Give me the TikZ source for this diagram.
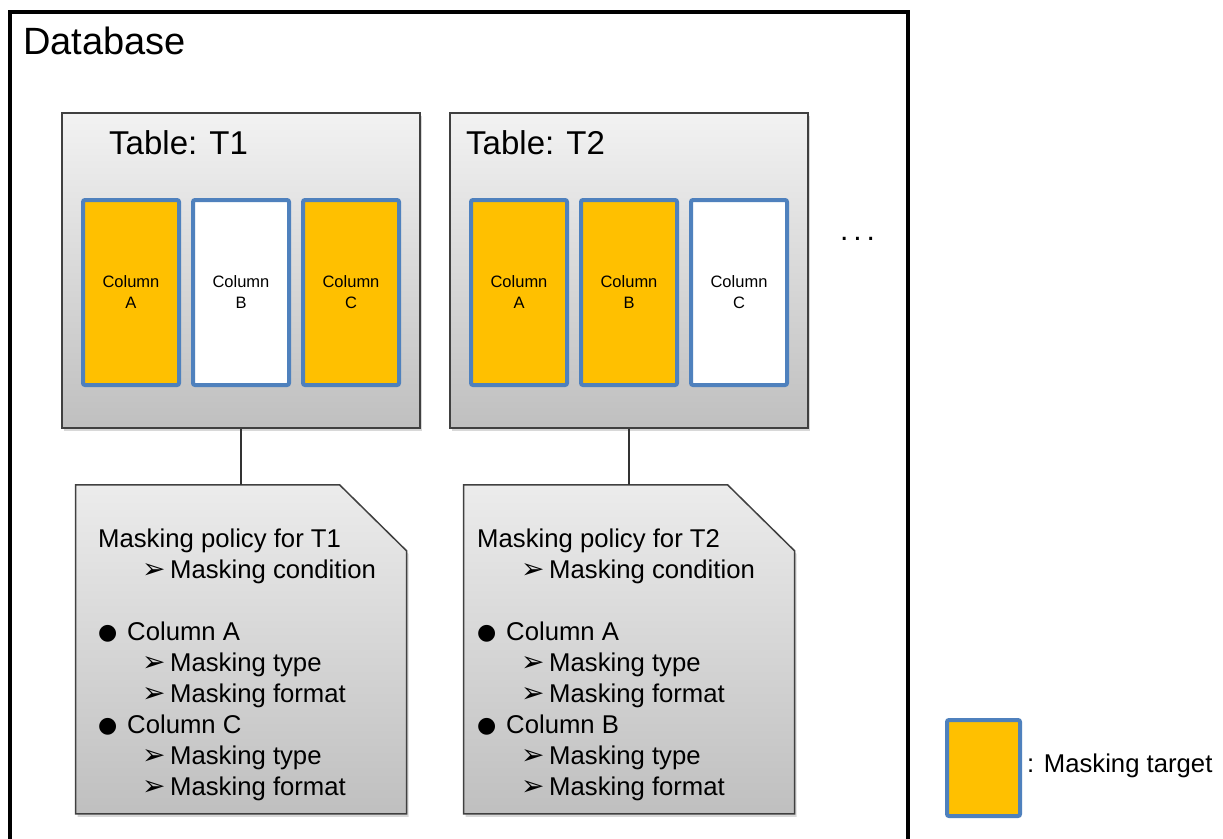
\documentclass[tikz,border=0pt]{standalone}
\usepackage{fontspec}
\setmainfont{Liberation Sans}
\newfontfamily\symfont{DejaVu Sans}
\usetikzlibrary{positioning,shadows}
\definecolor{maskorange}{HTML}{FFC000}
\definecolor{colblue}{HTML}{4F81BD}
\newcommand{\polarrow}[1]{\hspace*{44pt}\makebox[28pt][l]{\symfont\fontsize{28}{31}\selectfont ➢}#1}
\newcommand{\polbullet}[1]{\hspace*{0pt}\makebox[29pt][l]{\raisebox{1.5pt}{\symfont\fontsize{22}{31}\selectfont ●}}#1}
\tikzset{
  dbframe/.style={draw=black, line width=4pt, outer sep=0pt},
  tablebox/.style={draw=black!75, line width=1.5pt, top color=gray!10, bottom color=gray!50,
    minimum width=358pt, minimum height=315pt,
    drop shadow={shadow xshift=2pt, shadow yshift=-3pt, opacity=.3}},
  maskcol/.style={draw=colblue, line width=4pt, rounded corners=2pt, fill=maskorange,
    minimum width=96pt, minimum height=185pt, align=center, font=\fontsize{16.5}{21}\selectfont},
  plaincol/.style={maskcol, fill=white},
  policy/.style={minimum width=331pt, minimum height=329pt, outer sep=0pt},
  policyshape/.style={draw=black!75, line width=1.5pt, top color=gray!15, bottom color=gray!50,
    drop shadow={shadow xshift=2pt, shadow yshift=-3pt, opacity=.3}},
  policytext/.style={anchor=north west, inner sep=0pt, align=left, font=\fontsize{25.7}{31}\selectfont},
  title/.style={anchor=base west, inner sep=0pt}
}
\begin{document}
\begin{tikzpicture}[x=1pt, y=-1pt]
\clip (0,0) rectangle (1223,838);
\fill[white] (0,0) rectangle (1223,838);
% database frame
\node[dbframe, anchor=north west, minimum width=898pt, minimum height=900pt] (db) at (10,12) {};
\node[title, font=\fontsize{38}{42}\selectfont] (dbname) at (23,54) {Database};
% tables
\node[tablebox] (T1) at (241,270.5) {};
\node[tablebox] (T2) at (629,270.5) {};
\node[title, font=\fontsize{33}{36}\selectfont] (T1name) at (109,154) {Table: T1};
\node[title, font=\fontsize{33}{36}\selectfont] (T2name) at (466,154) {Table: T2};
\node[plaincol] (T1B) at ([yshift=-22pt]T1.center) {Column\\B};
\node[maskcol, left=10pt of T1B] (T1A) {Column\\A};
\node[maskcol, right=10pt of T1B] (T1C) {Column\\C};
\node[maskcol] (T2B) at ([yshift=-22pt]T2.center) {Column\\B};
\node[maskcol, left=10pt of T2B] (T2A) {Column\\A};
\node[plaincol, right=10pt of T2B] (T2C) {Column\\C};
\node[anchor=base, font=\fontsize{30}{34}\selectfont] (more) at (857.5,240) {.\hspace{5pt}.\hspace{5pt}.};
% policies
\node[policy, below=56pt of T1] (P1) {};
\node[policy, below=56pt of T2] (P2) {};
\foreach \p in {P1,P2}
  \path[policyshape] (\p.north west) -- ([xshift=-67pt]\p.north east)
    -- ([yshift=-66pt]\p.north east) -- (\p.south east) -- (\p.south west) -- cycle;
\draw[black!80, line width=1.2pt] (T1.south) -- (P1.north);
\draw[black!80, line width=1.2pt] (T2.south) -- (P2.north);
\node[policytext] (P1text) at (98,529) {Masking policy for T1\\
  \polarrow{Masking condition}\\[31pt]
  \polbullet{Column A}\\
  \polarrow{Masking type}\\
  \polarrow{Masking format}\\
  \polbullet{Column C}\\
  \polarrow{Masking type}\\
  \polarrow{Masking format}};
\node[policytext] (P2text) at (477,529) {Masking policy for T2\\
  \polarrow{Masking condition}\\[31pt]
  \polbullet{Column A}\\
  \polarrow{Masking type}\\
  \polarrow{Masking format}\\
  \polbullet{Column B}\\
  \polarrow{Masking type}\\
  \polarrow{Masking format}};
% legend
\node[maskcol, minimum width=73pt, minimum height=96pt] (legend) at (983.5,768) {};
\node[title, font=\fontsize{25.7}{28}\selectfont] (legendtext) at (1027,772) {: Masking target};
\end{tikzpicture}
\end{document}
